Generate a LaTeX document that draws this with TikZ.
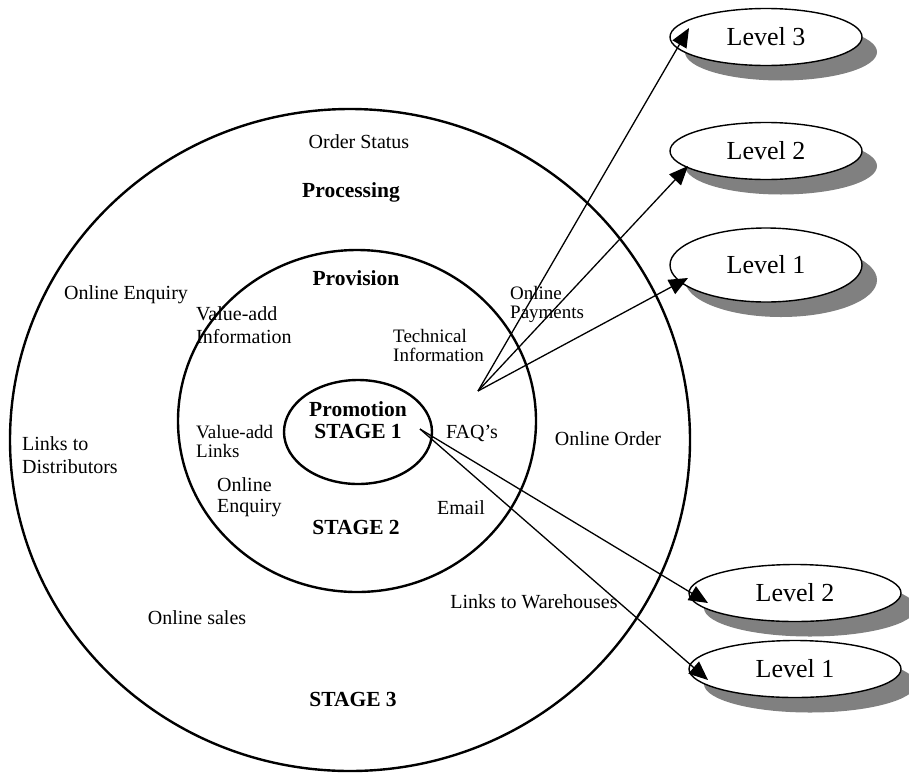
\documentclass[tikz,border=0pt]{standalone}
\usepackage{fontspec}
\setmainfont{Liberation Serif}
\usetikzlibrary{shapes.geometric,shadows,arrows.meta}
\begin{document}
\begin{tikzpicture}[x=1pt,y=-1pt,
  ring/.style={draw, ellipse, line width=2.4pt, inner sep=0pt, outer sep=0pt},
  lvl/.style={draw, ellipse, line width=1.4pt, fill=white, inner sep=0pt, outer sep=0pt,
    font=\fontsize{26}{28}\selectfont,
    drop shadow={opacity=1, fill=black!50, shadow xshift=15pt, shadow yshift=-15pt}},
  lbl/.style={font=\fontsize{20}{23}\selectfont, inner sep=0pt, align=left},
  tight/.style={font=\fontsize{19}{19}\selectfont, inner sep=0pt, align=left},
  blbl/.style={font=\fontsize{21.5}{22}\bfseries\selectfont, inner sep=0pt, align=center},
  arr/.style={line width=1.3pt, -{Triangle[length=19pt,width=16pt]}}]
\useasboundingbox (0,0) rectangle (909,774);

% rings
\node[ring, minimum width=680pt, minimum height=662pt] (outer) at (350,440) {};
\node[ring, minimum width=358pt, minimum height=342pt] (middle) at (357,421) {};
\node[ring, minimum width=148pt, minimum height=104pt] (inner) at (358,432) {};

% labels
\node[lbl] (orderstatus) at (359,142) {Order Status};
\node[blbl] (processing) at (351,192) {Processing};
\node[blbl] (provision) at (356,278) {Provision};
\node[lbl] (onlineenq) at (126,295) {Online Enquiry};
\node[lbl, anchor=west] (vainfo) at (196,325) {Value-add\\Information};
\node[tight, anchor=west] (techinfo) at (393,345) {Technical\\Information};
\node[tight, anchor=west] (onlinepay) at (510,304) {Online\\Payments};
\node[blbl] (promo) at (358,420) {Promotion\\STAGE 1};
\node[tight, anchor=west] (valinks) at (196,441) {Value-add\\Links};
\node[lbl] (faqs) at (472,433) {FAQ's};
\node[lbl] (onlineorder) at (608,439) {Online Order};
\node[lbl, anchor=west] (linksdist) at (22,455) {Links to\\Distributors};
\node[font=\fontsize{20}{21}\selectfont, inner sep=0pt, align=left, anchor=west] (onlineenq2) at (217,497) {Online\\Enquiry};
\node[lbl] (email) at (461,508) {Email};
\node[blbl] (stage2) at (356,527) {STAGE 2};
\node[lbl] (linkswh) at (534,602) {Links to Warehouses};
\node[lbl] (onlinesales) at (197,618) {Online sales};
\node[blbl] (stage3) at (353,699) {STAGE 3};

% level ellipses
\node[lvl, minimum width=192pt, minimum height=57pt] (L3a) at (766,37) {Level 3};
\node[lvl, minimum width=192pt, minimum height=57pt] (L2a) at (766,151) {Level 2};
\node[lvl, minimum width=192pt, minimum height=74pt] (L1a) at (766,265) {Level 1};
\node[lvl, minimum width=212pt, minimum height=57pt] (L2b) at (795,593) {Level 2};
\node[lvl, minimum width=212pt, minimum height=57pt] (L1b) at (795,669) {Level 1};

% connectors
\coordinate (fanA) at (478,391);
\coordinate (fanB) at (420,429);
\coordinate (tL3a) at (689,28);
\coordinate (tL2a) at (688,166);
\coordinate (tL1a) at (688,278);
\coordinate (tL2b) at (708,603);
\coordinate (tL1b) at (708,680);
\draw[arr] (fanA) -- (tL3a);
\draw[arr] (fanA) -- (tL2a);
\draw[arr] (fanA) -- (tL1a);
\draw[arr] (fanB) -- (tL2b);
\draw[arr] (fanB) -- (tL1b);
\end{tikzpicture}
\end{document}
